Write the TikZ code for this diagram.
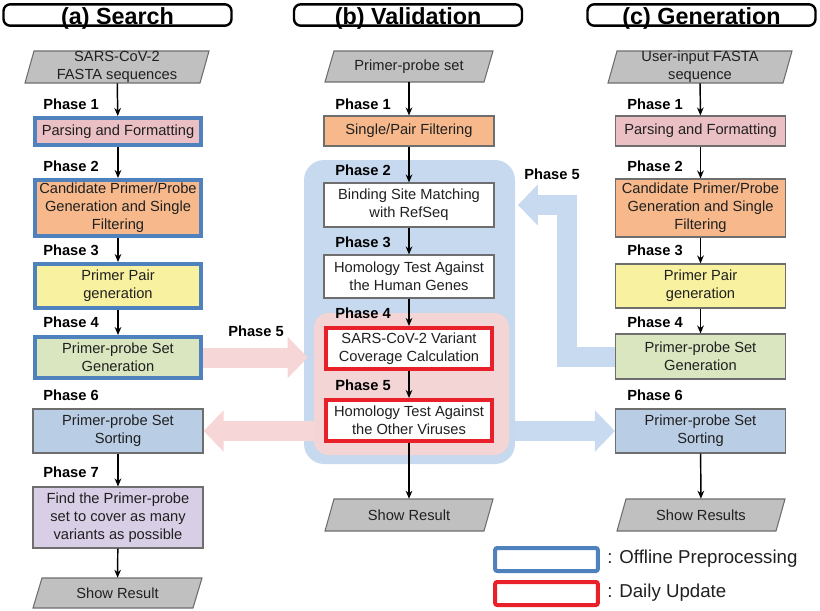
\documentclass[tikz,border=0pt]{standalone}
\usepackage{fontspec}
\setmainfont{Liberation Sans}
\usetikzlibrary{arrows.meta}
\definecolor{cblue}{HTML}{4F81BD}
\definecolor{cred}{HTML}{E8202A}
\definecolor{cpink}{HTML}{EBC0C4}
\definecolor{corange}{HTML}{F7B98B}
\definecolor{cyellow}{HTML}{F8F2A0}
\definecolor{cgreen}{HTML}{DAE6C0}
\definecolor{csort}{HTML}{B9CDE5}
\definecolor{cpurple}{HTML}{D8CEE6}
\definecolor{cgray}{HTML}{C0C0C0}
\definecolor{cbord}{HTML}{6E6E6E}
\definecolor{cregb}{HTML}{C7D9EF}
\definecolor{cregp}{HTML}{F3D5D6}
\definecolor{carrp}{HTML}{F6D6D6}
\definecolor{carrb}{HTML}{C8DAF0}
\definecolor{ctext}{HTML}{202020}
\newcommand\iobox[6]{%
  \filldraw[fill=cgray, draw=cbord, line width=0.8pt]
    (#2-#4,#3+#5) -- (#2-#4+9,#3-#5) -- (#2+#4,#3-#5) -- (#2+#4-9,#3+#5) -- cycle;
  \node[txt, minimum height={#5*1.5pt}, minimum width={#4*1.5pt}] (#1) at (#2,#3) {#6};}
\begin{document}
\begin{tikzpicture}[x=0.75pt,y=-0.75pt,
  txt/.style={inner sep=0pt, align=center, text=ctext, font=\fontsize{11}{13.5}\selectfont},
  thinbox/.style={txt, draw=cbord, line width=0.8pt, minimum width=127.5pt},
  offbox/.style={txt, draw=cblue, line width=3pt, minimum width=124.5pt},
  daybox/.style={txt, draw=cred, line width=3pt, minimum width=124.5pt, fill=white},
  phase/.style={anchor=west, inner sep=0pt, font=\fontsize{11}{13}\selectfont\bfseries, text=black},
  head/.style={draw=black, line width=1.8pt, rounded corners=5pt, inner sep=0pt,
    minimum width=171pt, minimum height=16pt, text height=15pt, text depth=1pt,
    font=\fontsize{17.5}{18}\selectfont\bfseries},
  arr/.style={draw=black, line width=1.1pt, -{Stealth[length=6pt,width=5pt]}},
  widep/.style={draw=carrp, line width=15pt, -{Triangle[length=15pt,width=30pt]}},
  wideb/.style={draw=carrb, line width=15pt, line join=miter, -{Triangle[length=15pt,width=30pt]}},
  legtxt/.style={anchor=west, inner sep=0pt, font=\fontsize{14}{16}\selectfont, text=ctext}
]
\useasboundingbox (0,0) rectangle (820,610);

% headers
\node[head] (ha) at (117.5,15) {(a) Search};
\node[head] (hb) at (408,15) {(b) Validation};
\node[head] (hc) at (701.5,15) {(c) Generation};

% regions in (b)
\node[draw=none, fill=cregb, rounded corners=15pt, minimum width=158.25pt, minimum height=228pt, inner sep=0pt] (breg) at (409.5,312) {};
\node[draw=none, fill=cregp, rounded corners=11pt, minimum width=146.25pt, minimum height=106.5pt, inner sep=0pt] (preg) at (411.5,384) {};

% column (a)
\iobox{ain}{117}{67}{92}{16}{SARS-CoV-2\\FASTA sequences}
\node[offbox, fill=cpink, minimum height=20.25pt] (a1) at (118,131.5) {Parsing and Formatting};
\node[offbox, fill=corange, minimum height=42pt] (a2) at (118,208) {Candidate Primer/Probe\\Generation and Single\\Filtering};
\node[offbox, fill=cyellow, minimum height=33pt] (a3) at (118,286) {Primer Pair\\generation};
\node[offbox, fill=cgreen, minimum height=30.75pt] (a4) at (118,357.5) {Primer-probe Set\\Generation};
\node[thinbox, fill=csort, minimum height=33pt] (a6) at (118,431) {Primer-probe Set\\Sorting};
\node[thinbox, fill=cpurple, minimum height=45.75pt] (a7) at (118,517.5) {Find the Primer-probe\\set to cover as many\\variants as possible};
\iobox{aout}{117.5}{593}{84.5}{15}{Show Result}

\node[phase] (pa1) at (43,104) {Phase 1};
\node[phase] (pa2) at (43,166) {Phase 2};
\node[phase] (pa3) at (43,250) {Phase 3};
\node[phase] (pa4) at (43,322) {Phase 4};
\node[phase] (pa6) at (43,395) {Phase 6};
\node[phase] (pa7) at (43,472) {Phase 7};

% column (b)
\iobox{bin}{409}{66.5}{84}{15.5}{Primer-probe set}
\node[thinbox, fill=corange, minimum height=22.5pt] (b1) at (409,131) {Single/Pair Filtering};
\node[thinbox, fill=white, minimum height=33pt] (b2) at (409,205) {Binding Site Matching\\with RefSeq};
\node[thinbox, fill=white, minimum height=32.25pt] (b3) at (409,276.5) {Homology Test Against\\the Human Genes};
\node[daybox, minimum height=30.75pt] (b4) at (409,348.5) {SARS-CoV-2 Variant\\Coverage Calculation};
\node[daybox, minimum height=30.75pt] (b5) at (409,420.5) {Homology Test Against\\the Other Viruses};
\iobox{bout}{409}{515}{84}{16}{Show Result}

\node[phase] (pb1) at (335,104) {Phase 1};
\node[phase] (pb2) at (335,170) {Phase 2};
\node[phase] (pb3) at (335,242) {Phase 3};
\node[phase] (pb4) at (335,313) {Phase 4};
\node[phase] (pb5) at (335,385) {Phase 5};

% column (c)
\iobox{cin}{700}{67}{92}{16}{User-input FASTA\\sequence}
\node[thinbox, fill=cpink, minimum height=22.5pt] (c1) at (700.5,131) {Parsing and Formatting};
\node[thinbox, fill=corange, minimum height=43.5pt] (c2) at (700.5,208) {Candidate Primer/Probe\\Generation and Single\\Filtering};
\node[thinbox, fill=cyellow, minimum height=33pt] (c3) at (700.5,286) {Primer Pair\\generation};
\node[thinbox, fill=cgreen, minimum height=33.75pt] (c4) at (700.5,356.5) {Primer-probe Set\\Generation};
\node[thinbox, fill=csort, minimum height=33pt] (c6) at (700.5,431) {Primer-probe Set\\Sorting};
\iobox{cout}{701}{515}{84}{16}{Show Results}

\node[phase] (pc1) at (627,104) {Phase 1};
\node[phase] (pc2) at (627,166) {Phase 2};
\node[phase] (pc3) at (627,250) {Phase 3};
\node[phase] (pc4) at (627,322) {Phase 4};
\node[phase] (pc6) at (627,395) {Phase 6};

% wide arrows
\draw[widep] (a4.east) -- ([xshift=-4.5pt]preg.west |- a4);
\draw[widep] (preg.west |- a6) -- (a6.east);
\draw[wideb] (breg.east |- c6) -- (c6.west);
\draw[wideb] (c4.west) -- ++(-48,0) |- ([xshift=2pt]breg.east |- b2);
\node[phase] (p5a) at (228,331) {Phase 5};
\node[phase] (p5c) at (524,174) {Phase 5};

% thin arrows
\draw[arr] (ain) -- (a1);
\draw[arr] (a1) -- (a2);
\draw[arr] (a2) -- (a3);
\draw[arr] (a3) -- (a4);
\draw[arr] (a6) -- (a7);
\draw[arr] (a7) -- (aout);
\draw[arr] (bin) -- (b1);
\draw[arr] (b1) -- (b2);
\draw[arr] (b2) -- (b3);
\draw[arr] (b3) -- (b4);
\draw[arr] (b4) -- (b5);
\draw[arr] (b5) -- (bout);
\draw[arr] (cin) -- (c1);
\draw[arr] (c1) -- (c2);
\draw[arr] (c2) -- (c3);
\draw[arr] (c3) -- (c4);
\draw[arr] (c6) -- (cout);

% legend
\node[draw=cblue, line width=3pt, rounded corners=1.5pt, minimum width=77pt, minimum height=17.25pt, inner sep=0pt] (lb) at (546.5,559.5) {};
\node[draw=cred, line width=3pt, rounded corners=1.5pt, minimum width=77pt, minimum height=17.25pt, inner sep=0pt] (lr) at (546.5,593.5) {};
\node[legtxt] (lbt) at (607,559) {: Offline Preprocessing};
\node[legtxt] (lrt) at (607,593) {: Daily Update};
\end{tikzpicture}
\end{document}
